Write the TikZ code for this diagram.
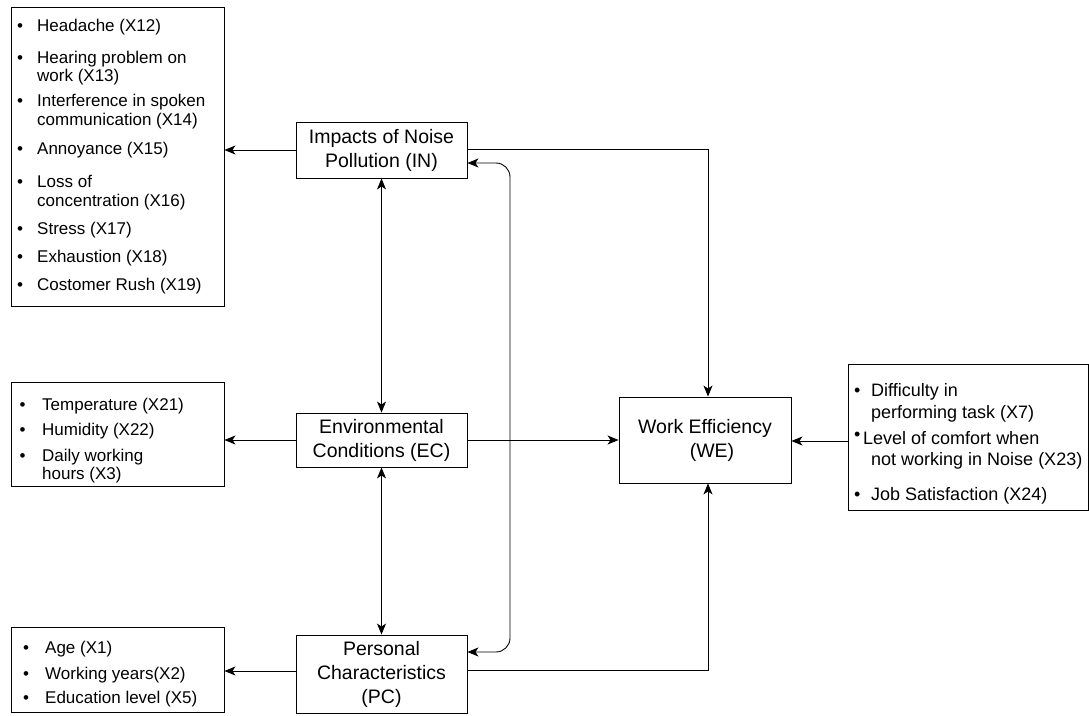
\documentclass[tikz,border=0pt]{standalone}
\usepackage{fontspec}
\setmainfont{Liberation Sans}
\usetikzlibrary{arrows.meta,calc}
\newcommand\lbul[1]{\makebox[#1][l]{\textbullet}}
\newcommand\lind[1]{\hspace*{#1}}
\begin{document}
\begin{tikzpicture}[x=1pt,y=-1pt,
  box/.style={draw=black, line width=0.9pt, inner sep=0pt},
  mid/.style={box, minimum width=171pt, font=\fontsize{19.5}{24}\selectfont, align=center},
  lst/.style={inner sep=0pt, anchor=north west, align=left},
  arr/.style={line width=0.9pt, -{Stealth[length=11pt,width=9pt,inset=3pt]}},
  dbl/.style={line width=0.9pt, {Stealth[length=11pt,width=9pt,inset=3pt]}-{Stealth[length=11pt,width=9pt,inset=3pt]}},
]
\useasboundingbox (0,0) rectangle (1089,715);

% list boxes
\node[box, minimum width=213pt, minimum height=299pt] (L1) at (117.5,156.5) {};
\node[box, minimum width=213pt, minimum height=104pt] (L2) at (117.5,434) {};
\node[box, minimum width=213pt, minimum height=85pt] (L3) at (117.5,669.5) {};
\node[box, minimum width=240pt, minimum height=146pt] (R) at (968,437) {};

% main boxes
\node[mid, minimum height=56pt] (IN) at (381.5,150) {Impacts of Noise\\Pollution (IN)};
\node[mid, minimum height=54pt] (EC) at (381.5,440) {Environmental\\Conditions (EC)};
\node[mid, minimum height=78pt] (PC) at (381.5,674) {Personal\\Characteristics\\(PC)};
\node[mid, minimum width=172pt, minimum height=86pt] (WE) at (705,440) {Work Efficiency\\\hspace*{14pt}(WE)};

% list texts
\node[lst, font=\fontsize{17}{18.5}\selectfont] (T1) at (17,18.6) {%
\lbul{20pt}Headache (X12)\\[13.5pt]
\lbul{20pt}Hearing problem on\\
\lind{20pt}work (X13)\\[6.5pt]
\lbul{20pt}Interference in spoken\\
\lind{20pt}communication (X14)\\[10.5pt]
\lbul{20pt}Annoyance (X15)\\[14.5pt]
\lbul{20pt}Loss of\\[0.5pt]
\lind{20pt}concentration (X16)\\[9.5pt]
\lbul{20pt}Stress (X17)\\[9.5pt]
\lbul{20pt}Exhaustion (X18)\\[9.5pt]
\lbul{20pt}Costomer Rush (X19)};

\node[lst, font=\fontsize{17}{18}\selectfont] (T2) at (19.5,397.6) {%
\lbul{22.5pt}Temperature (X21)\\[7pt]
\lbul{22.5pt}Humidity (X22)\\[8pt]
\lbul{22.5pt}Daily working\\
\lind{22.5pt}hours (X3)};

\node[lst, font=\fontsize{17}{18}\selectfont] (T3) at (23,640.6) {%
\lbul{22pt}Age (X1)\\[8pt]
\lbul{22pt}Working years(X2)\\[6pt]
\lbul{22pt}Education level (X5)};

\node[lst, font=\fontsize{18}{20}\selectfont] (T4) at (854,383.3) {%
\lbul{17pt}Difficulty in\\[2pt]
\lind{17pt}performing task (X7)\\[6pt]
\makebox[9pt][l]{\raisebox{4pt}{\textbullet}}Level of comfort when\\[1pt]
\lind{17pt}not working in Noise (X23)\\[15pt]
\lbul{17pt}Job Satisfaction (X24)};

% connectors
\coordinate (bend) at (510,400);
\draw[arr] (IN.west) -- (L1.east |- IN.west);
\draw[arr] (EC.west) -- (L2.east |- EC.west);
\draw[arr] (PC.west |- 0,671) -- (L3.east |- 0,671);
\draw[arr] (IN.east |- 0,149) -| ($(WE.north)+(3,0)$);
\draw[arr] (EC.east) -- (WE.west |- EC.east);
\draw[arr] (PC.east |- 0,670) -| ($(WE.south)+(3,0)$);
\draw[arr] (R.west |- 0,441) -- (WE.east |- 0,441);
\draw[dbl] (IN.south) -- (EC.north);
\draw[dbl] (EC.south) -- (PC.north);
\draw[dbl, rounded corners=14pt] (IN.east |- 0,163) -| (bend) |- (PC.east |- 0,652);
\end{tikzpicture}
\end{document}
